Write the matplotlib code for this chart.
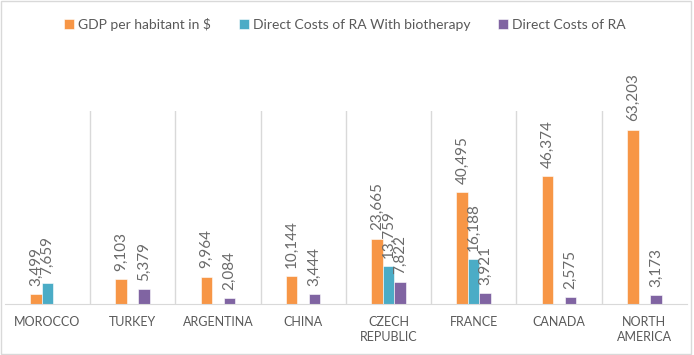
import numpy as np
import matplotlib.pyplot as plt
from matplotlib.patches import Rectangle

countries = ["MOROCCO", "TURKEY", "ARGENTINA", "CHINA", "CZECH\nREPUBLIC",
             "FRANCE", "CANADA", "NORTH\nAMERICA"]
series = ["GDP per habitant in $", "Direct Costs of RA With biotherapy", "Direct Costs of RA"]
gdp = [3499, 9103, 9964, 10144, 23665, 40495, 46374, 63203]
bio = [7659, np.nan, np.nan, np.nan, 13759, 16188, np.nan, np.nan]
direct = [np.nan, 5379, 2084, 3444, 7822, 3921, 2575, 3173]
colors = ["#F79646", "#4BACC6", "#8064A2"]

plt.rcParams['font.family'] = ['Lato', 'DejaVu Sans']
fig = plt.figure(figsize=(6.94, 3.55), dpi=100)
ax = fig.add_axes([0.0068, 0.1437, 0.983, 0.5436])

x = np.arange(len(countries))
w = 0.135
for k, vals in enumerate([gdp, bio, direct]):
    vals = np.array(vals, dtype=float)
    ax.bar(x + (k - 1) * w, vals, w, color=colors[k], label=series[k],
           edgecolor='white', linewidth=0.4)
    for xi, v in zip(x, vals):
        if np.isnan(v):
            continue
        ax.annotate("{:,}".format(int(v)), (xi + (k - 1) * w, v), xytext=(0, 6),
                    textcoords='offset points', rotation=90, ha='center', va='bottom',
                    fontsize=11, color='#6A6A6A', annotation_clip=False)

ax.set_xlim(-0.5, len(countries) - 0.5)
ax.set_ylim(0, 70000)
ax.set_yticks([])
ax.set_xticks(x)
ax.set_xticklabels(countries, fontsize=9, color='#595959', linespacing=1.3)
ax.set_xticks(np.arange(0.5, len(countries) - 1, 1), minor=True)
ax.tick_params(axis='x', which='both', length=0, pad=9)
ax.grid(which='minor', axis='x', color='#D9D9D9', linewidth=1)
for s in ['top', 'left', 'right']:
    ax.spines[s].set_visible(False)
ax.spines['bottom'].set_color('#D9D9D9')

fig.legend(loc='center', bbox_to_anchor=(0.497, 0.932), ncol=3, frameon=False,
           fontsize=10, handlelength=0.7, handleheight=0.7, handletextpad=0.3,
           columnspacing=2.0, labelcolor='#595959')

fig.patches.append(Rectangle((0.002, 0.003), 0.993, 0.993, transform=fig.transFigure,
                             fill=False, edgecolor='#D9D9D9', linewidth=1))

plt.savefig('out.png', dpi=100)
